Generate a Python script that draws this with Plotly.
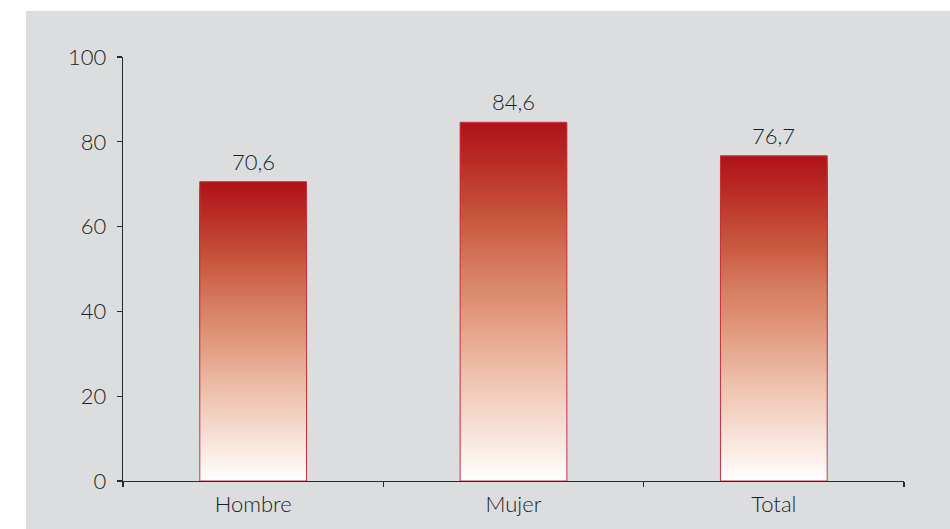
import plotly.graph_objects as go

categories = ["Hombre", "Mujer", "Total"]
values = [70.6, 84.6, 76.7]
y_ticks = [0, 20, 40, 60, 80, 100]

# gradient stops (fraction of bar height from bottom -> rgb)
grad_stops = [
    (0.0, (255, 255, 255)),
    (0.1, (250, 234, 226)),
    (0.3, (237, 192, 172)),
    (0.5, (222, 145, 115)),
    (0.6, (213, 122, 95)),
    (0.75, (198, 82, 58)),
    (0.9, (184, 42, 36)),
    (1.0, (176, 18, 24)),
]

def grad_color(f):
    for (f0, c0), (f1, c1) in zip(grad_stops[:-1], grad_stops[1:]):
        if f <= f1:
            t = (f - f0) / (f1 - f0)
            return "rgb(%d,%d,%d)" % tuple(round(a + (b - a) * t) for a, b in zip(c0, c1))
    return "rgb(%d,%d,%d)" % grad_stops[-1][1]

N = 120
BAR_W = 0.41
FONT = dict(family="Lato", size=22, color="#1e1e1e", weight=300)

fig = go.Figure()
# nested bars from full height (dark top colour) down to shortest (white)
for k in range(N - 1, -1, -1):
    fig.add_trace(go.Bar(
        x=categories,
        y=[v * (k + 1) / N for v in values],
        width=BAR_W,
        marker=dict(color=grad_color((k + 0.5) / N), line=dict(width=0)),
        hoverinfo="skip",
        showlegend=False,
    ))

# outline
fig.add_trace(go.Bar(
    x=categories,
    y=values,
    width=BAR_W,
    marker=dict(color="rgba(0,0,0,0)", line=dict(color="#c9323c", width=1)),
    hoverinfo="skip",
    showlegend=False,
))

# value labels
for c, v in zip(categories, values):
    fig.add_annotation(
        x=c, y=v, text=("%.1f" % v).replace(".", ","),
        showarrow=False, yanchor="bottom", yshift=5, font=FONT,
    )

W, H = 950, 529
ml, mr, mt, mb = 123, 46, 57, 48
pw, ph = W - ml - mr, H - mt - mb

fig.update_layout(
    width=W, height=H,
    margin=dict(l=ml, r=mr, t=mt, b=mb, pad=0),
    paper_bgcolor="white",
    plot_bgcolor="#dcdddf",
    barmode="overlay",
    separators=", ",
    font=FONT,
    showlegend=False,
    hovermode=False,
    shapes=[dict(
        type="rect", xref="paper", yref="paper", layer="below",
        x0=(26 - ml) / pw, x1=1.2,
        y0=-0.3, y1=1 + (mt - 11) / ph,
        fillcolor="#dcdddf", line=dict(width=0),
    )],
)
fig.update_xaxes(
    type="category", tickson="boundaries", ticks="outside", ticklen=5,
    tickcolor="#2a2a2a", tickwidth=1.3,
    showline=True, linecolor="#2a2a2a", linewidth=1.3,
    showgrid=False, zeroline=False,
    ticklabelstandoff=3,
    tickfont=FONT,
)
fig.update_yaxes(
    range=[0, 100], tickvals=y_ticks, ticks="outside", ticklen=5,
    tickcolor="#2a2a2a", tickwidth=1.3,
    showline=True, linecolor="#2a2a2a", linewidth=1.3,
    showgrid=False, zeroline=False,
    ticklabelstandoff=6,
    tickfont=FONT,
)

fig.write_html(
    "out.html",
    config={"displayModeBar": False, "staticPlot": True},
    post_script="document.body.style.margin='0';document.body.style.overflow='hidden';",
)
